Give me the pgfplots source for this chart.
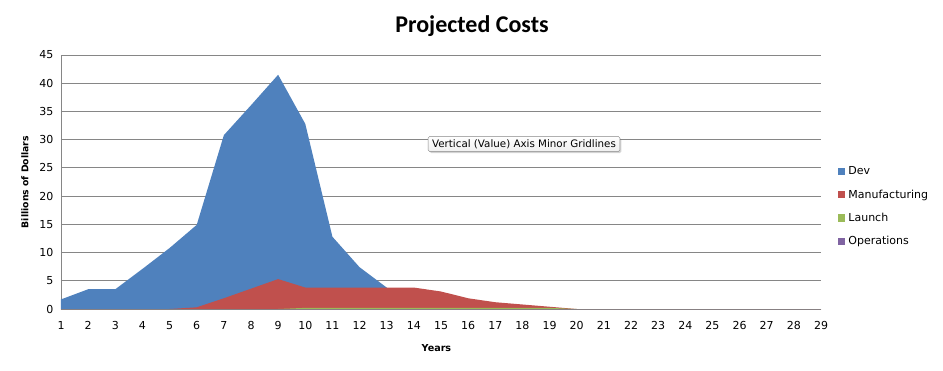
\documentclass[border=0pt]{standalone}
\usepackage{pgfplots}
\pgfplotsset{compat=1.18}
\usetikzlibrary{shadows}
\usepackage{fontspec}
\setmainfont{DejaVu Sans}
\newfontfamily\titlefont{Carlito}
\definecolor{devc}{HTML}{4F81BD}
\definecolor{manc}{HTML}{C0504D}
\definecolor{lauc}{HTML}{9BBB59}
\definecolor{opsc}{HTML}{8064A2}
\definecolor{gridc}{HTML}{868686}
\begin{document}
\begin{tikzpicture}
\useasboundingbox (-61bp,-62bp) rectangle (882bp,309bp);
\begin{axis}[
  scale only axis,
  width=760bp, height=254bp,
  xmin=1, xmax=29, ymin=0, ymax=45,
  xtick={1,...,29}, ytick={0,5,...,45},
  axis lines*=left,
  axis line style={gridc, line width=0.8bp},
  major tick length=0pt,
  ymajorgrids, grid style={gridc, line width=0.8bp},
  /pgf/number format/assume math mode=true,
  ticklabel style={font=\fontsize{11bp}{13bp}\selectfont},
  xticklabel style={yshift=-8.5bp},
  yticklabel style={xshift=-4bp},
  xlabel={\bfseries Years},
  xlabel style={at={(axis description cs:0.494,-0.154)}, anchor=center, font=\fontsize{9.6bp}{11bp}\selectfont},
  ylabel={\bfseries Billions of Dollars},
  ylabel style={at={(axis description cs:-0.0474,0.5)}, anchor=center, font=\fontsize{9.3bp}{11bp}\selectfont},
  legend style={at={(rel axis cs:1.0224,0.5685)}, anchor=north west, draw=none, fill=none,
    font=\fontsize{11bp}{13bp}\selectfont, row sep=9.5bp, inner sep=0pt,
    nodes={inner xsep=3bp}},
  legend cell align=left,
  legend image code/.code={\fill[#1] (0bp,-3.6bp) rectangle (7.2bp,3.6bp);},
]
\addplot[fill=devc, draw=none] coordinates {
(1,1.7)(2,3.5)(3,3.5)(4,7.1)(5,10.8)(6,14.9)(7,30.8)(8,36.1)(9,41.5)(10,32.8)
(11,12.8)(12,7.4)(13,3.8)(14,0)(15,0)(16,0)(17,0)(18,0)(19,0)(20,0)
(21,0)(22,0)(23,0)(24,0)(25,0)(26,0)(27,0)(28,0)(29,0)} \closedcycle;
\addlegendentry{Dev}
\addplot[fill=manc, draw=none] coordinates {
(1,0)(2,0)(3,0)(4,0)(5,0)(6,0.3)(7,1.9)(8,3.6)(9,5.3)(10,3.8)
(11,3.8)(12,3.8)(13,3.8)(14,3.8)(15,3.1)(16,1.9)(17,1.2)(18,0.8)(19,0.4)(20,0)
(21,0)(22,0)(23,0)(24,0)(25,0)(26,0)(27,0)(28,0)(29,0)} \closedcycle;
\addlegendentry{Manufacturing}
\addplot[fill=lauc, draw=none] coordinates {
(1,0)(2,0)(3,0)(4,0)(5,0)(6,0)(7,0)(8,0)(9,0)(10,0.2)
(11,0.2)(12,0.2)(13,0.2)(14,0.2)(15,0.2)(16,0.2)(17,0.2)(18,0.2)(19,0.2)(20,0)
(21,0)(22,0)(23,0)(24,0)(25,0)(26,0)(27,0)(28,0)(29,0)} \closedcycle;
\addlegendentry{Launch}
\addplot[fill=opsc, draw=none] coordinates {
(1,0)(2,0)(3,0)(4,0)(5,0)(6,0)(7,0)(8,0)(9,0)(10,0)
(11,0)(12,0)(13,0)(14,0)(15,0)(16,0)(17,0)(18,0)(19,0)(20,0)
(21,0)(22,0)(23,0)(24,0)(25,0)(26,0)(27,0)(28,0)(29,0)} \closedcycle;
\addlegendentry{Operations}
\node[draw=gridc, rounded corners=1.5bp, top color=white, bottom color=gray!12, inner xsep=4bp, inner ysep=3bp,
  font=\fontsize{10.3bp}{12bp}\selectfont, drop shadow={opacity=0.35, shadow xshift=1.5bp, shadow yshift=-1.5bp},
  anchor=center] at (rel axis cs:0.6092,0.6496) {Vertical (Value) Axis Minor Gridlines};
\end{axis}
\node[font=\titlefont\bfseries\fontsize{24bp}{28bp}\selectfont, anchor=center] at (411bp,283bp) {Projected Costs};
\end{tikzpicture}
\end{document}
